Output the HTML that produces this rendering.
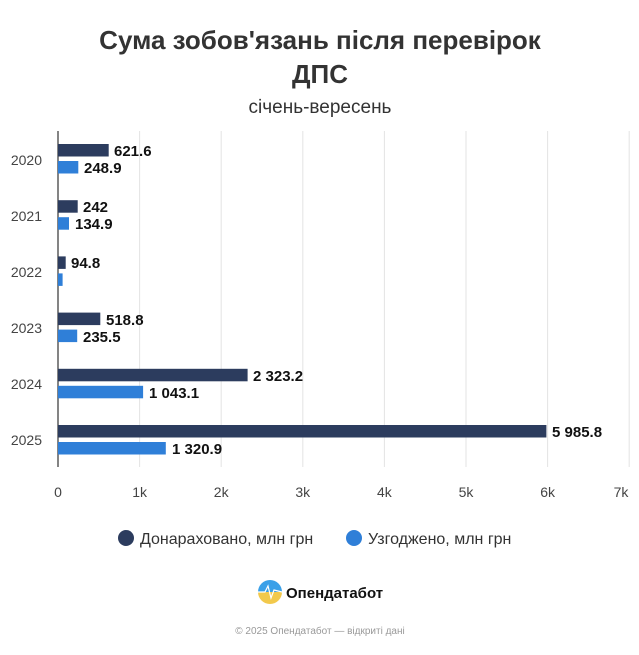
<!DOCTYPE html>
<html><head><meta charset="utf-8"><style>
body{margin:0;background:#fff;font-family:"Liberation Sans",sans-serif}
</style></head><body>
<svg width="639" height="650" xmlns="http://www.w3.org/2000/svg" font-family="Liberation Sans, sans-serif">
<rect width="639" height="650" fill="#fff"/>
<text x="320" y="49" text-anchor="middle" font-size="26" font-weight="bold" fill="#333">Сума зобов'язань після перевірок</text>
<text x="320" y="83" text-anchor="middle" font-size="26" font-weight="bold" fill="#333">ДПС</text>
<text x="320" y="113" text-anchor="middle" font-size="19" fill="#333">січень-вересень</text>
<g stroke="#e3e3e3" stroke-width="1">
<line x1="139.6" y1="131" x2="139.6" y2="467"/><line x1="221.2" y1="131" x2="221.2" y2="467"/><line x1="302.8" y1="131" x2="302.8" y2="467"/><line x1="384.4" y1="131" x2="384.4" y2="467"/><line x1="466" y1="131" x2="466" y2="467"/><line x1="547.6" y1="131" x2="547.6" y2="467"/><line x1="629.2" y1="131" x2="629.2" y2="467"/>
</g>
<line x1="58" y1="131" x2="58" y2="467" stroke="#333" stroke-width="1.2"/>
<g font-size="14" fill="#444" text-anchor="middle">
<text x="58" y="497">0</text><text x="139.6" y="497">1k</text><text x="221.2" y="497">2k</text><text x="302.8" y="497">3k</text><text x="384.4" y="497">4k</text><text x="466" y="497">5k</text><text x="547.6" y="497">6k</text><text x="621" y="497">7k</text>
</g>
<g font-size="14" fill="#444" text-anchor="end">
<text x="42" y="165">2020</text><text x="42" y="221">2021</text><text x="42" y="277">2022</text><text x="42" y="333">2023</text><text x="42" y="389">2024</text><text x="42" y="445">2025</text>
</g>
<g fill="#2c3c5e">
<rect x="58" y="144" width="50.7" height="12.5"/>
<rect x="58" y="200.2" width="19.7" height="12.5"/>
<rect x="58" y="256.4" width="7.7" height="12.5"/>
<rect x="58" y="312.6" width="42.3" height="12.5"/>
<rect x="58" y="368.8" width="189.6" height="12.5"/>
<rect x="58" y="425" width="488.4" height="12.5"/>
</g>
<g fill="#2f7fd8">
<rect x="58" y="161" width="20.3" height="12.5"/>
<rect x="58" y="217.2" width="11" height="12.5"/>
<rect x="58" y="273.4" width="4.6" height="12.5"/>
<rect x="58" y="329.6" width="19.2" height="12.5"/>
<rect x="58" y="385.8" width="85.1" height="12.5"/>
<rect x="58" y="442" width="107.8" height="12.5"/>
</g>
<g font-size="15" font-weight="bold" fill="#111">
<text x="114" y="156">621.6</text><text x="84" y="173">248.9</text>
<text x="83" y="212">242</text><text x="75" y="229">134.9</text>
<text x="71" y="268">94.8</text>
<text x="106" y="325">518.8</text><text x="83" y="342">235.5</text>
<text x="253" y="381">2 323.2</text><text x="149" y="398">1 043.1</text>
<text x="552" y="437">5 985.8</text><text x="172" y="454">1 320.9</text>
</g>
<circle cx="126" cy="538" r="8" fill="#2c3c5e"/>
<text x="140" y="544" font-size="16" fill="#333">Донараховано, млн грн</text>
<circle cx="354" cy="538" r="8" fill="#2f7fd8"/>
<text x="368" y="544" font-size="16" fill="#333">Узгоджено, млн грн</text>
<defs><linearGradient id="g" x1="0" y1="0" x2="0" y2="1"><stop offset="0.5" stop-color="#3aa0e8"/><stop offset="0.5" stop-color="#f2c94c"/></linearGradient></defs>
<circle cx="270" cy="592" r="12" fill="url(#g)"/>
<polyline points="258,592 265,592 268,586 271,598 274,590 282,592" fill="none" stroke="#fff" stroke-width="1.2"/>
<text x="286" y="598" font-size="15" font-weight="bold" fill="#111">Опендатабот</text>
<text x="320" y="634" text-anchor="middle" font-size="10" fill="#999">© 2025 Опендатабот — відкриті дані</text>
</svg>
</body></html>
